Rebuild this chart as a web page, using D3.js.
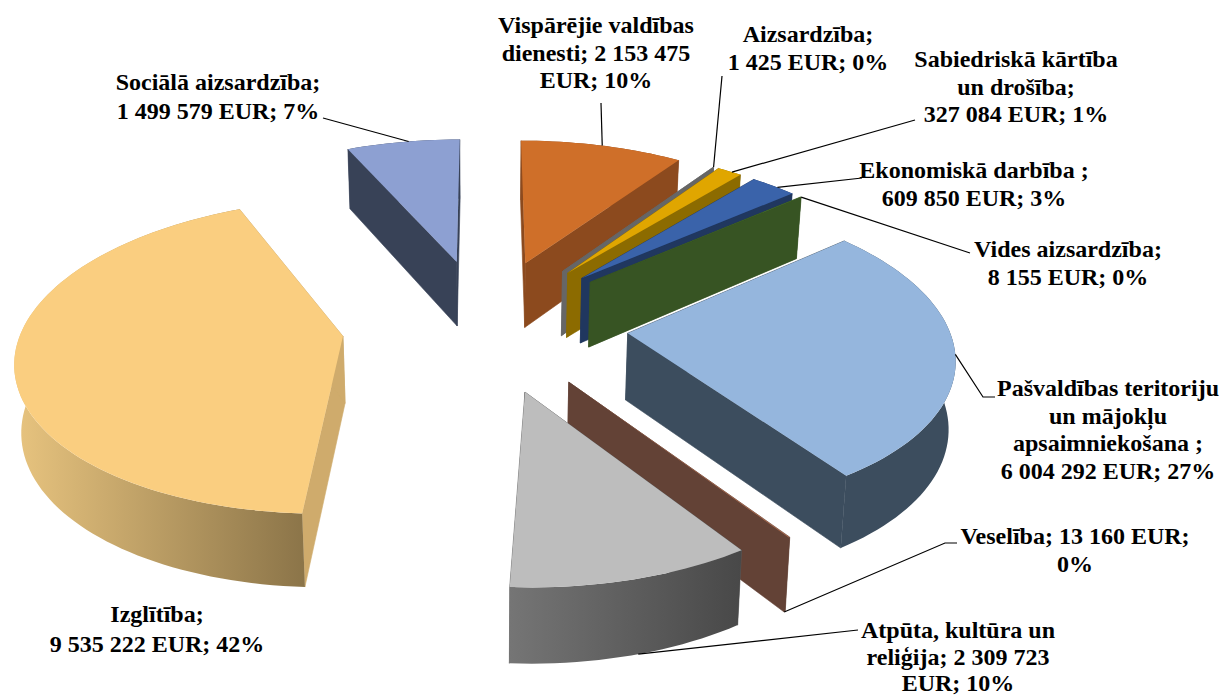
<!DOCTYPE html>
<html>
<head>
<meta charset="utf-8">
<script src="https://cdn.jsdelivr.net/npm/d3@7"></script>
<style>
  html, body { margin: 0; background: #fff; }
  text { font-family: "Liberation Serif", serif; font-weight: bold; font-size: 24px; fill: #000; }
</style>
</head>
<body>
<svg id="chart" width="1224" height="696"></svg>
<script>
const categories = ["Vispārējie valdības dienesti", "Aizsardzība", "Sabiedriskā kārtība un drošība",
    "Ekonomiskā darbība", "Vides aizsardzība", "Pašvaldības teritoriju un mājokļu apsaimniekošana",
    "Veselība", "Atpūta, kultūra un reliģija", "Izglītība", "Sociālā aizsardzība"];
const values = [2153475, 1425, 327084, 609850, 8155, 6004292, 13160, 2309723, 9535222, 1499579];
const labelLines = [
    ["Vispārējie valdības", "dienesti; 2 153 475", "EUR; 10%"],
    ["Aizsardzība;", "1 425 EUR; 0%"],
    ["Sabiedriskā kārtība", "un drošība;", "327 084 EUR; 1%"],
    ["Ekonomiskā darbība ;", "609 850 EUR; 3%"],
    ["Vides aizsardzība;", "8 155 EUR; 0%"],
    ["Pašvaldības teritoriju", "un mājokļu", "apsaimniekošana ;", "6 004 292 EUR; 27%"],
    ["Veselība; 13 160 EUR;", "0%"],
    ["Atpūta, kultūra un", "reliģija; 2 309 723", "EUR; 10%"],
    ["Izglītība;", "9 535 222 EUR; 42%"],
    ["Sociālā aizsardzība;", "1 499 579 EUR; 7%"]
];
const topColors   = ["#CF6F29", "#7A7A7A", "#E0A600", "#3A63AA", "#4A7A30", "#95B6DD", "#A86B50", "#BDBDBD", "#FACE80", "#8DA0D2"];
const sideColors  = ["#8C4A1E", "#666666", "#8C6B00", "#20375F", "#375423", "#3C4D5E", "#634236", "#5A5A5A", "#CFAB6C", "#384257"];
const wallLeft    = ["#8C4A1E", "#666666", "#8C6B00", "#20375F", "#375423", "#3C4D5E", "#634236", "#757575", "#E8C47F", "#384257"];
const wallRight   = ["#8C4A1E", "#666666", "#8C6B00", "#20375F", "#375423", "#3C4D5E", "#634236", "#484848", "#8C7549", "#384257"];

// label anchor (centre x, first baseline) and where its leader line starts
const labelPos = [
    { x: 596, y: 33, lead: [601, 103], at: 0.5, z: 0 },
    { x: 808, y: 42, lead: [722, 76], at: 0.5, z: 0 },
    { x: 1016, y: 67, lead: [915, 120], at: 0.6, z: 0 },
    { x: 974, y: 178, lead: [862, 178], at: 0.6, z: 0 },
    { x: 1068, y: 257, lead: [970, 253], at: 1, z: 0 },
    { x: 1108, y: 396, lead: [995, 397], elbow: [983, 397], at: 0.5, z: 0 },
    { x: 1075, y: 544, lead: [957, 543], elbow: [945, 543], at: 1, z: 1 },
    { x: 958, y: 638, gap: 26.5, lead: [858, 630], at: 0.47, z: 1 },
    { x: 157, y: 622, gap: 29.5 },
    { x: 218, y: 90, gap: 29, lead: [323, 118], at: 0.55, z: 0 }
];

// painted back to front
const drawOrder = [9, 0, 1, 2, 3, 4, 5, 8, 6, 7];

const cx = 485, cy = 324, rx = 325, ry = 152, persp = 0.125, depth = 66.5, shrink = 0.015, explode = 0.44, rimX = 0.985;

function project(u, v, z) {
    const s = 1 / (1 + persp * v);
    const sh = 1 - shrink * z;
    return [cx + rx * u * s * sh, cy - ry * v * s + depth * z * Math.pow(s, 0.7)];
}

const pie = d3.pie().sort(null)(values);
const svg = d3.select("#chart");
const defs = svg.append("defs");
const line = d3.line();

pie.forEach((d, i) => {
    const mid = (d.startAngle + d.endAngle) / 2;
    d.au = explode * Math.sin(mid);
    d.av = explode * Math.cos(mid);
    d.rim = (t, z) => project(d.au + rimX * Math.sin(t), d.av + Math.cos(t), z);
    d.apex = z => project(d.au, d.av, z);
    const n = Math.max(2, Math.ceil((d.endAngle - d.startAngle) / 0.03));
    d.angles = d3.range(n + 1).map(k => d.startAngle + (d.endAngle - d.startAngle) * k / n);
    const xs = d.angles.map(t => d.rim(t, 0)[0]);
    defs.append("linearGradient").attr("id", "wall" + i)
        .attr("gradientUnits", "userSpaceOnUse")
        .attr("x1", d3.min(xs)).attr("x2", d3.max(xs)).attr("y1", 0).attr("y2", 0)
        .call(g => g.append("stop").attr("offset", 0).attr("stop-color", wallLeft[i]))
        .call(g => g.append("stop").attr("offset", 1).attr("stop-color", wallRight[i]));
});

drawOrder.forEach(i => {
    const d = pie[i];
    const g = svg.append("g").attr("class", "slice").attr("data-name", categories[i]);
    [d.startAngle, d.endAngle].forEach(t => {
        g.append("path").attr("fill", sideColors[i]).attr("stroke", sideColors[i]).attr("stroke-width", 0.6)
            .attr("d", line([d.apex(0), d.rim(t, 0), d.rim(t, 1), d.apex(1)]) + "Z");
    });
    const top = d.angles.map(t => d.rim(t, 0));
    const bottom = d.angles.map(t => d.rim(t, 1)).reverse();
    g.append("path").attr("fill", `url(#wall${i})`).attr("d", line(top.concat(bottom)) + "Z");
    g.append("path").attr("fill", topColors[i]).attr("d", line([d.apex(0)].concat(top)) + "Z");
});

// leader lines run from the label to a spot on the slice rim
labelPos.forEach((p, i) => {
    if (!p.lead) return;
    const d = pie[i];
    const end = d.rim(d.startAngle + (d.endAngle - d.startAngle) * p.at, p.z);
    const pts = [p.lead].concat(p.elbow ? [p.elbow] : []).concat([end]);
    svg.append("path").attr("fill", "none").attr("stroke", "#000").attr("stroke-width", 1.2).attr("d", line(pts));
});

labelLines.forEach((lines, i) => {
    const t = svg.append("text").attr("text-anchor", "middle");
    lines.forEach((s, k) => {
        t.append("tspan").attr("x", labelPos[i].x).attr("y", labelPos[i].y + k * (labelPos[i].gap || 27.5)).text(s);
    });
});
</script>
</body>
</html>
